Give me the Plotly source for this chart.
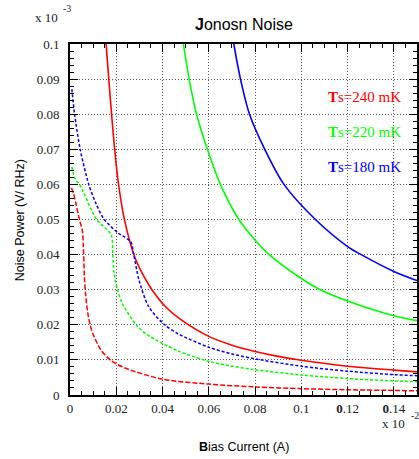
import plotly.graph_objects as go

# Solid curves (noise power vs bias current), one per bath temperature
red_solid_x = [0.0156, 0.0169, 0.0181, 0.0192, 0.0207, 0.0234, 0.0281, 0.0320, 0.0355, 0.0412, 0.0469, 0.06, 0.07, 0.08, 0.09, 0.10, 0.12, 0.14, 0.15]
red_solid_y = [0.100, 0.0888, 0.0790, 0.0708, 0.0614, 0.0504, 0.0391, 0.0337, 0.0299, 0.0252, 0.0220, 0.0167, 0.0142, 0.0124, 0.0110, 0.0099, 0.0082, 0.0071, 0.0066]

green_solid_x = [0.0490, 0.0515, 0.0547, 0.0594, 0.0650, 0.0730, 0.0797, 0.0861, 0.10, 0.1082, 0.12, 0.14, 0.15]
green_solid_y = [0.100, 0.090, 0.080, 0.070, 0.060, 0.050, 0.0444, 0.040, 0.0332, 0.030, 0.0268, 0.0226, 0.0212]

blue_solid_x = [0.0708, 0.0737, 0.0776, 0.0842, 0.0925, 0.1061, 0.12, 0.1253, 0.14, 0.15]
blue_solid_y = [0.100, 0.090, 0.080, 0.070, 0.060, 0.050, 0.0423, 0.0402, 0.0352, 0.0326]

# Dashed curves
red_dash_x = [0.0006, 0.0015, 0.0024, 0.0041, 0.0053, 0.0058, 0.0062, 0.0067, 0.0077, 0.0087, 0.0098, 0.0134, 0.0180, 0.0241, 0.04, 0.06, 0.08, 0.10, 0.12, 0.14, 0.15]
red_dash_y = [0.0590, 0.0575, 0.0550, 0.0499, 0.0470, 0.0422, 0.0340, 0.0290, 0.0233, 0.020, 0.0176, 0.0128, 0.0097, 0.0076, 0.0045, 0.0031, 0.0023, 0.0018, 0.0015, 0.0013, 0.0012]

green_dash_x = [0.0008, 0.0024, 0.0041, 0.0115, 0.0169, 0.0181, 0.0185, 0.0190, 0.0205, 0.0226, 0.0286, 0.0333, 0.0469, 0.06, 0.07, 0.08, 0.10, 0.12, 0.14, 0.15]
green_dash_y = [0.065, 0.0613, 0.060, 0.050, 0.0465, 0.0450, 0.040, 0.035, 0.030, 0.0261, 0.020, 0.0172, 0.0125, 0.0096, 0.0082, 0.0072, 0.0057, 0.0047, 0.0040, 0.0038]

blue_dash_x = [0.0008, 0.0020, 0.0044, 0.0081, 0.0112, 0.0148, 0.0209, 0.0262, 0.0276, 0.0298, 0.0340, 0.0409, 0.0469, 0.06, 0.07, 0.08, 0.10, 0.12, 0.14, 0.15]
blue_dash_y = [0.0871, 0.080, 0.070, 0.060, 0.0546, 0.050, 0.0461, 0.0437, 0.0399, 0.0328, 0.0252, 0.0200, 0.0174, 0.0136, 0.0117, 0.0103, 0.0082, 0.0068, 0.0058, 0.0055]

x_tick_vals = [0, 0.02, 0.04, 0.06, 0.08, 0.10, 0.12, 0.14]
x_tick_text = ["0", "0.02", "0.04", "0.06", "0.08", "0.1", "<b>0</b>.12", "<b>0</b>.14"]
y_tick_vals = [0, 0.01, 0.02, 0.03, 0.04, 0.05, 0.06, 0.07, 0.08, 0.09, 0.1]
y_tick_text = ["0", "0.01", "0.02", "0.03", "0.04", "0.05", "0.06", "0.07", "0.08", "0.09", "0.1"]

temp_labels = ["<b>T</b>s=240 mK", "<b>T</b>s=220 mK", "<b>T</b>s=180 mK"]
temp_label_y = [0.0849, 0.0749, 0.0650]
colors = ["#ff0000", "#00ff00", "#0000ff"]

W, H = 419, 459
L, R, T, B = 70, 0, 44, 64
PW, PH = W - L - R, H - T - B


def px(x):
    return (x - L) / PW


def py(y):
    return (H - B - y) / PH


fig = go.Figure()

solid = [(red_solid_x, red_solid_y), (green_solid_x, green_solid_y), (blue_solid_x, blue_solid_y)]
dashed = [(red_dash_x, red_dash_y), (green_dash_x, green_dash_y), (blue_dash_x, blue_dash_y)]
dash_styles = ["5px,2px", "3px,2px", "3px,2px"]

for (xs, ys), c in zip(solid, colors):
    fig.add_trace(go.Scatter(x=xs, y=ys, mode="lines",
                             line=dict(color=c, width=1.6, shape="spline", smoothing=0.8),
                             showlegend=False, hoverinfo="skip"))
for (xs, ys), c, d in zip(dashed, colors, dash_styles):
    fig.add_trace(go.Scatter(x=xs, y=ys, mode="lines",
                             line=dict(color=c, width=1.5, dash=d, shape="spline", smoothing=0.8),
                             showlegend=False, hoverinfo="skip"))

serif = "Liberation Serif"
sans = "Liberation Sans"

axis_common = dict(
    showline=True, linecolor="black", linewidth=2, mirror="allticks",
    ticks="inside", ticklen=8, tickwidth=1, tickcolor="black",
    showgrid=True, gridcolor="#555555", griddash="1px,2px", gridwidth=1,
    zeroline=False,
    tickfont=dict(family=serif, size=13, color="#222222"),
)

fig.update_xaxes(range=[0, 0.15], tickvals=x_tick_vals, ticktext=x_tick_text,
                 minor=dict(dtick=0.005, ticks="inside", ticklen=4, tickcolor="black", showgrid=False),
                 **axis_common)
fig.update_yaxes(range=[0, 0.1], tickvals=y_tick_vals, ticktext=y_tick_text,
                 minor=dict(dtick=0.002, ticks="inside", ticklen=4, tickcolor="black", showgrid=False),
                 ticklabelstandoff=6,
                 **axis_common)

ann = []
ann.append(dict(text="<b>J</b>onosn Noise", x=px(245), y=py(25), xref="paper", yref="paper",
                showarrow=False, font=dict(family=sans, size=16, color="black"),
                xanchor="center", yanchor="middle"))
ann.append(dict(text="<b>B</b>ias Current (A)", x=px(245), y=py(447), xref="paper", yref="paper",
                showarrow=False, font=dict(family=sans, size=12.5, color="black"),
                xanchor="center", yanchor="middle"))
ann.append(dict(text="Noise Power (V/ RHz)", x=px(20), y=py(220), xref="paper", yref="paper",
                showarrow=False, textangle=-90, font=dict(family=sans, size=12.5, color="black"),
                xanchor="center", yanchor="middle"))
# axis multipliers
ann.append(dict(text="x 10", x=px(33), y=py(17), xref="paper", yref="paper", showarrow=False,
                font=dict(family=serif, size=13, color="#222222"), xanchor="left", yanchor="middle"))
ann.append(dict(text="-3", x=px(61), y=py(9), xref="paper", yref="paper", showarrow=False,
                font=dict(family=serif, size=10, color="#222222"), xanchor="left", yanchor="middle"))
ann.append(dict(text="x 10", x=px(382), y=py(423), xref="paper", yref="paper", showarrow=False,
                font=dict(family=serif, size=13, color="#222222"), xanchor="left", yanchor="middle"))
ann.append(dict(text="-2", x=px(411), y=py(415), xref="paper", yref="paper", showarrow=False,
                font=dict(family=serif, size=10, color="#222222"), xanchor="left", yanchor="middle"))

for t, yv, c in zip(temp_labels, temp_label_y, colors):
    ann.append(dict(text=t, x=px(327), y=yv, xref="paper", yref="y", showarrow=False,
                    font=dict(family=serif, size=15, color=c), xanchor="left", yanchor="middle"))

fig.update_layout(
    width=W, height=H,
    margin=dict(l=L, r=R, t=T, b=B, pad=0),
    paper_bgcolor="white", plot_bgcolor="white",
    annotations=ann,
)

fig.write_html("out.html")
